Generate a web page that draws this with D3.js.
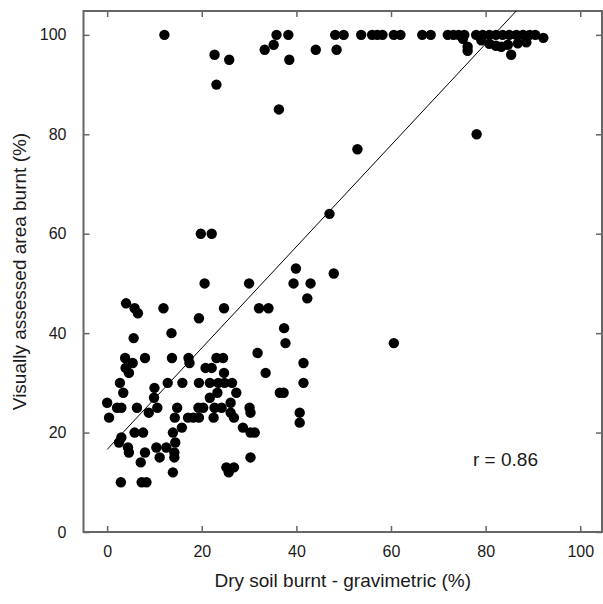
<!DOCTYPE html>
<html>
<head>
<meta charset="utf-8">
<script src="https://cdn.jsdelivr.net/npm/d3@7"></script>
<style>
  body { margin: 0; background: #fff; }
  text { font-family: "Liberation Sans", Arial, sans-serif; fill: #1a1a1a; }
</style>
</head>
<body>
<svg id="chart" width="603" height="604"></svg>
<script>
// dry soil burnt, gravimetric (%)
var drySoil = [
  12.1, 35.8, 38.3, 48.2, 50.0, 53.7, 56.0, 57.1, 58.2, 60.6, 62.0, 66.6, 68.4,
  72.0, 73.2, 74.3, 75.5, 78.0, 79.4, 80.8, 82.2, 83.6, 85.0, 86.5, 87.9, 89.3, 90.5,
  75.2, 92.2, 79.1, 80.8, 82.2, 83.3, 84.7, 86.8, 88.6, 85.4, 76.2, 76.2,
  22.7, 25.8, 23.1, 33.3, 35.2, 38.5, 36.3, 44.1, 48.5, 52.9, 78.1,
  47.0, 19.8, 22.1, 39.9, 47.9, 20.6, 30.0, 39.4, 43.0, 42.3, 24.7, 32.1, 34.1,
  19.4, 37.4, 37.7, 60.6, 31.8, 41.5, 33.5, 41.5, 36.5, 37.3, 40.7, 40.7,
  4.0, 5.8, 6.5, 11.9, 13.6, 5.6, 3.8, 5.4, 8.0, 13.7, 17.2, 17.4, 23.1, 24.5,
  20.8, 22.1, 24.7, 3.9, 4.6, 2.7, 3.4, 10.0, 12.8, 15.9, 19.4, 21.7, 23.5, 24.8,
  26.4, 9.9, 0.0, 2.1, 3.0, 6.3, 10.6, 14.8, 19.3, 20.3, 22.7, 24.2, 30.1, 30.3,
  0.4, 8.8, 14.3, 17.1, 18.2, 19.4, 22.5, 26.1, 26.8, 23.3, 27.3, 21.7, 26.1,
  28.7, 30.3, 31.2, 15.8, 13.9, 5.8, 7.6, 3.0, 2.5, 4.4, 4.6, 8.0, 7.1, 10.4,
  12.5, 11.1, 14.4, 14.2, 14.2, 13.9, 2.9, 7.3, 8.3, 25.2, 26.8, 25.7, 30.3
];
// visually assessed area burnt (%)
var areaBurnt = [
  100, 100, 100, 100, 100, 100, 100, 100, 100, 100, 100, 100, 100,
  100, 100, 100, 100, 100, 100, 100, 100, 100, 100, 100, 100, 100, 100,
  99.2, 99.4, 98.9, 98.2, 97.8, 97.6, 98.0, 98.3, 98.5, 96.0, 97.6, 96.8,
  96, 95, 90, 97, 98, 95, 85, 97, 97, 77, 80,
  64, 60, 60, 53, 52, 50, 50, 50, 50, 47, 45, 45, 45,
  43, 41, 38, 38, 36, 34, 32, 30, 28, 28, 24, 22,
  46, 45, 44, 45, 40, 39, 35, 34, 35, 35, 35, 34, 35, 35,
  33, 33, 32, 33, 32, 30, 28, 29, 30, 30, 30, 30, 30, 30,
  30, 27, 26, 25, 25, 25, 25, 25, 25, 25, 25, 25, 25, 24,
  23, 24, 23, 23, 23, 23, 23, 24, 23, 28, 28, 27, 26,
  21, 20, 20, 21, 20, 20, 20, 19, 18, 17, 16, 16, 14, 17,
  17, 15, 18, 16, 15, 12, 10, 10, 10, 13, 13, 12, 15
];

var xTicks = [0, 20, 40, 60, 80, 100];
var yTicks = [0, 20, 40, 60, 80, 100];
var fitIntercept = 16.6;
var fitSlope = 1.02;
var rLabel = 'r = 0.86';

var svg = d3.select('#chart');
var plotL = 83.5, plotR = 602, plotT = 11, plotB = 532;

var x = d3.scaleLinear().domain([-5, 104.6]).range([plotL, plotR]);
var y = d3.scaleLinear().domain([0, 104.8]).range([plotB, plotT]);

// frame + ticks (all ticks point inward)
var frameColor = '#666';
function styleAxis(g) {
  g.select('.domain').remove();
  g.selectAll('.tick line').attr('stroke', frameColor).attr('stroke-width', 1.5);
  g.selectAll('.tick text').style('font-size', '16px').attr('fill', '#1a1a1a');
}

svg.append('g')
  .attr('transform', 'translate(0,' + plotB + ')')
  .call(d3.axisBottom(x).tickValues(xTicks).tickSizeInner(-6).tickSizeOuter(0).tickPadding(14))
  .call(styleAxis);
svg.append('g')
  .attr('transform', 'translate(0,' + plotT + ')')
  .call(d3.axisTop(x).tickValues(xTicks).tickSizeInner(-6).tickSizeOuter(0).tickFormat(''))
  .call(styleAxis);
svg.append('g')
  .attr('transform', 'translate(' + plotL + ',0)')
  .call(d3.axisLeft(y).tickValues(yTicks).tickSizeInner(-6).tickSizeOuter(0).tickPadding(17))
  .call(styleAxis);
svg.append('g')
  .attr('transform', 'translate(' + plotR + ',0)')
  .call(d3.axisRight(y).tickValues(yTicks).tickSizeInner(-6).tickSizeOuter(0).tickFormat(''))
  .call(styleAxis);

svg.append('rect')
  .attr('x', plotL).attr('y', plotT)
  .attr('width', plotR - plotL).attr('height', plotB - plotT)
  .attr('fill', 'none').attr('stroke', frameColor).attr('stroke-width', 2);

svg.append('clipPath').attr('id', 'plot-clip')
  .append('rect')
  .attr('x', plotL).attr('y', plotT)
  .attr('width', plotR - plotL).attr('height', plotB - plotT);

// points
var pts = drySoil.map(function(d, i) { return [d, areaBurnt[i]]; });
svg.append('g')
  .selectAll('circle')
  .data(pts)
  .enter().append('circle')
  .attr('cx', function(d) { return x(d[0]); })
  .attr('cy', function(d) { return y(d[1]); })
  .attr('r', 5.2)
  .attr('fill', '#000');

// regression line
var xEnd = (y.domain()[1] - fitIntercept) / fitSlope;
svg.append('line')
  .attr('clip-path', 'url(#plot-clip)')
  .attr('x1', x(0)).attr('y1', y(fitIntercept))
  .attr('x2', x(xEnd)).attr('y2', y(fitIntercept + fitSlope * xEnd))
  .attr('stroke', '#000').attr('stroke-width', 1);

svg.append('text')
  .attr('x', 473).attr('y', 466)
  .style('font-size', '19px')
  .text(rLabel);

// axis titles
svg.append('text')
  .attr('x', (plotL + plotR) / 2).attr('y', 587)
  .attr('text-anchor', 'middle')
  .style('font-size', '19px')
  .text('Dry soil burnt - gravimetric (%)');
svg.append('text')
  .attr('transform', 'translate(26,' + (plotT + plotB) / 2 + ') rotate(-90)')
  .attr('text-anchor', 'middle')
  .style('font-size', '19px')
  .text('Visually assessed area burnt (%)');
</script>
</body>
</html>
